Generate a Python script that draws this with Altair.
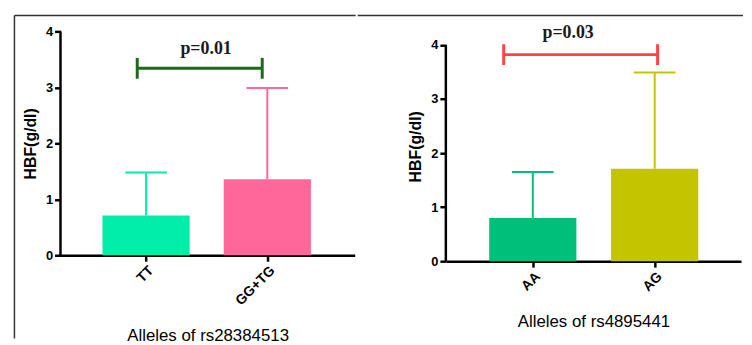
import json
import altair as alt
import pandas as pd

# ---------------- data ----------------
y_title = "HBF(g/dl)"
y_ticks = [0, 1, 2, 3, 4]

left_cats = ["TT", "GG+TG"]
left_mean = [0.71, 1.36]
left_sd = [0.77, 1.63]
left_colors = ["#00EEAA", "#FF6699"]
left_xtitle = "Alleles of rs28384513"
left_p = "p=0.01"
left_bracket = [0.927, 1.958]      # bracket ends (category units)
left_bracket_y = 3.34
left_p_pos = [1.495, 3.60]
left_bracket_color = "#1B6B1B"

right_cats = ["AA", "AG"]
right_mean = [0.80, 1.71]
right_sd = [0.85, 1.78]
right_colors = ["#00BF7A", "#C4C400"]
right_xtitle = "Alleles of rs4895441"
right_p = "p=0.03"
right_bracket = [0.761, 2.024]
right_bracket_y = 3.82
right_p_pos = [1.29, 4.12]
right_bracket_color = "#FF4444"


def panel(cats, means, sds, colors, xdom, ydom, w, h, bracket, by, bcolor,
          ptext, ppos, xtitle, frames):
    pos = list(range(1, len(cats) + 1))
    df = pd.DataFrame({"pos": pos, "cat": cats, "mean": means, "sd": sds})
    df["upper"] = df["mean"] + df["sd"]
    labels = json.dumps(cats)

    x = alt.X("pos:Q", scale=alt.Scale(domain=xdom, nice=False, zero=False),
              axis=alt.Axis(values=pos, labelExpr=f"{labels}[datum.value-1]",
                            labelAngle=-45, title=xtitle))
    y = alt.Y("mean:Q", scale=alt.Scale(domain=ydom, nice=False),
              axis=alt.Axis(values=y_ticks, format="d", title=y_title,
                            domain=False))
    color = alt.Color("cat:N", scale=alt.Scale(domain=cats, range=colors),
                      legend=None)

    base = alt.Chart(df)
    bars = base.mark_bar(orient="vertical", size=88).encode(x=x, y=y, color=color)
    stems = base.mark_rule(strokeWidth=2).encode(
        x="pos:Q", y="mean:Q", y2="upper:Q", color=color)
    caps = base.mark_tick(orient="horizontal", size=42, thickness=2,
                          opacity=1).encode(x="pos:Q", y="upper:Q", color=color)

    # y axis line from 0 to the last tick
    ydf = pd.DataFrame({"y0": [y_ticks[0]], "y1": [y_ticks[-1]]})
    yline = alt.Chart(ydf).mark_rule(color="black", strokeWidth=2.5).encode(
        x=alt.value(0), y="y0:Q", y2="y1:Q")

    bdf = pd.DataFrame({"bx": [bracket[0]], "bx2": [bracket[1]], "by": [by]})
    brule = alt.Chart(bdf).mark_rule(strokeWidth=3, color=bcolor).encode(
        x="bx:Q", x2="bx2:Q", y="by:Q")
    bcdf = pd.DataFrame({"bx": bracket, "by": [by, by]})
    bcaps = alt.Chart(bcdf).mark_tick(orient="vertical", size=21, thickness=3,
                                      color=bcolor, opacity=1).encode(
        x="bx:Q", y="by:Q")

    tdf = pd.DataFrame({"tx": [ppos[0]], "ty": [ppos[1]], "t": [ptext]})
    txt = alt.Chart(tdf).mark_text(font="Liberation Serif", fontWeight="bold",
                                   fontSize=18, baseline="alphabetic",
                                   color="#1a1a1a").encode(
        x="tx:Q", y="ty:Q", text="t:N")

    layers = [bars, stems, caps, yline, brule, bcaps, txt] + frames
    return alt.layer(*layers).properties(width=w, height=h)


fdf = pd.DataFrame({"k": [0]})
left_frames = [
    alt.Chart(fdf).mark_rule(color="#333333", strokeWidth=1.5).encode(
        x=alt.value(-46.5), y=alt.value(-16), y2=alt.value(310)),
    alt.Chart(fdf).mark_rule(color="#333333", strokeWidth=1.5).encode(
        x=alt.value(-46.5), x2=alt.value(298), y=alt.value(-16)),
]
right_frames = [
    alt.Chart(fdf).mark_rule(color="#333333", strokeWidth=1.5).encode(
        x=alt.value(-89), x2=alt.value(300), y=alt.value(-16)),
]

# left: 0 at y=256.3, 4 at y=30 ; right: 0 at 262, 4 at 43.7 (page px)
left = panel(left_cats, left_mean, left_sd, left_colors, [0.335, 2.68], [0, 4],
             297, 226, left_bracket, left_bracket_y, left_bracket_color,
             left_p, left_p_pos, left_xtitle, left_frames)
right = panel(right_cats, right_mean, right_sd, right_colors, [0.327, 2.668],
              [0, 4.25], 298, 232, right_bracket, right_bracket_y,
              right_bracket_color, right_p, right_p_pos, right_xtitle,
              right_frames)

chart = alt.hconcat(left, right, spacing=0, bounds="full").resolve_scale(
    color="independent"
).properties(
    padding={"left": 5, "top": 5, "right": 0, "bottom": 0},
    background="white",
).configure_axis(
    grid=False, domainColor="black", domainWidth=2.5, tickColor="black",
    tickWidth=2.5, tickSize=6, labelFont="Liberation Sans",
    labelFontWeight="bold", labelFontSize=13, labelColor="black",
    titleFont="Liberation Sans", titleColor="black", labelPadding=2,
).configure_axisY(
    titleFontSize=16, titleFontWeight="bold", titlePadding=7,
).configure_axisX(
    labelFontSize=14, titleFontSize=17, titleFontWeight="normal",
    titlePadding=20,
).configure_view(stroke=None)

chart.save("out.html", embed_options={"renderer": "svg", "actions": False})
